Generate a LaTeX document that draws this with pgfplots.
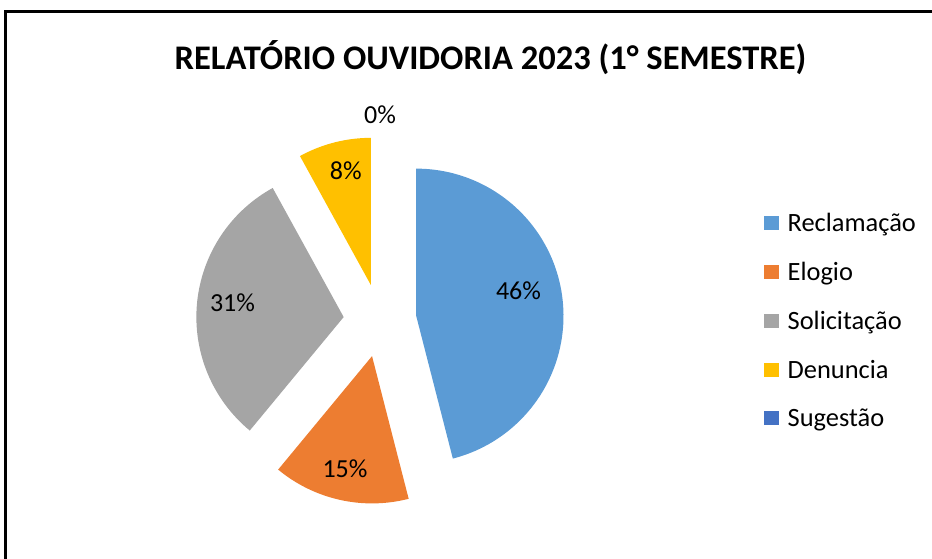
\documentclass[border=0pt]{standalone}
\usepackage{pgfplots}
\pgfplotsset{compat=1.18}
\usepackage{fontspec}
\setmainfont{Carlito}
\definecolor{cRec}{HTML}{5B9BD5}
\definecolor{cElo}{HTML}{ED7D31}
\definecolor{cSol}{HTML}{A5A5A5}
\definecolor{cDen}{HTML}{FFC000}
\definecolor{cSug}{HTML}{4472C4}
\begin{document}
\begin{tikzpicture}
\useasboundingbox (0,0) rectangle (932pt,559pt);
% shares in percent: Reclamacao 46, Elogio 15, Solicitacao 31, Denuncia 8, Sugestao 0
\pgfmathsetmacro\rad{147.3}
\pgfmathsetmacro\expl{36.5}
\pgfmathsetmacro\cx{380}
\pgfmathsetmacro\cy{238.5}
\pgfmathsetmacro\aA{90}
\pgfmathsetmacro\bA{\aA-3.6*46}
\pgfmathsetmacro\bB{\bA-3.6*15}
\pgfmathsetmacro\bC{\bB-3.6*31}
\pgfmathsetmacro\bD{\bC-3.6*8}
\pgfmathsetmacro\mA{(\aA+\bA)/2}
\pgfmathsetmacro\mB{(\bA+\bB)/2}
\pgfmathsetmacro\mC{(\bB+\bC)/2}
\pgfmathsetmacro\mD{(\bC+\bD)/2}
\pgfmathsetmacro\xA{\cx+\expl*cos(\mA)}\pgfmathsetmacro\yA{\cy+\expl*sin(\mA)}
\pgfmathsetmacro\xB{\cx+\expl*cos(\mB)}\pgfmathsetmacro\yB{\cy+\expl*sin(\mB)}
\pgfmathsetmacro\xC{\cx+\expl*cos(\mC)}\pgfmathsetmacro\yC{\cy+\expl*sin(\mC)}
\pgfmathsetmacro\xD{\cx+\expl*cos(\mD)}\pgfmathsetmacro\yD{\cy+\expl*sin(\mD)}
\begin{axis}[
  at={(0,0)}, anchor=south west,
  scale only axis, width=932pt, height=559pt,
  xmin=0, xmax=932, ymin=0, ymax=559,
  hide axis, clip=false,
  legend style={at={(axis cs:764,349)}, anchor=north west, draw=none, fill=none,
    inner sep=0pt, font=\fontsize{26.4}{30}\selectfont, row sep=23.1pt,
    nodes={inner sep=3pt}},
  legend cell align=left,
  legend image code/.code={\fill[#1] (0pt,-7pt) rectangle (15pt,7pt); \path (20.5pt,0pt);},
]
\addplot[fill=cRec, draw=none, domain=\bA:\aA, samples=90, variable=\t, forget plot]
  ({\xA+\rad*cos(\t)},{\yA+\rad*sin(\t)}) -- (axis cs:\xA,\yA) -- cycle;
\addplot[fill=cElo, draw=none, domain=\bB:\bA, samples=40, variable=\t, forget plot]
  ({\xB+\rad*cos(\t)},{\yB+\rad*sin(\t)}) -- (axis cs:\xB,\yB) -- cycle;
\addplot[fill=cSol, draw=none, domain=\bC:\bB, samples=70, variable=\t, forget plot]
  ({\xC+\rad*cos(\t)},{\yC+\rad*sin(\t)}) -- (axis cs:\xC,\yC) -- cycle;
\addplot[fill=cDen, draw=none, domain=\bD:\bC, samples=25, variable=\t, forget plot]
  ({\xD+\rad*cos(\t)},{\yD+\rad*sin(\t)}) -- (axis cs:\xD,\yD) -- cycle;
\addlegendimage{fill=cRec, draw=none}
\addlegendentry{Reclamação}
\addlegendimage{fill=cElo, draw=none}
\addlegendentry{Elogio}
\addlegendimage{fill=cSol, draw=none}
\addlegendentry{Solicitação}
\addlegendimage{fill=cDen, draw=none}
\addlegendentry{Denuncia}
\addlegendimage{fill=cSug, draw=none}
\addlegendentry{Sugestão}
\begin{scope}[font=\fontsize{26}{30}\selectfont]
\node[anchor=base] at (axis cs:518.5,259) {46\%};
\node[anchor=base] at (axis cs:345,81) {15\%};
\node[anchor=base] at (axis cs:232.5,247.3) {31\%};
\node[anchor=base] at (axis cs:345.8,379) {8\%};
\node[anchor=base] at (axis cs:380,435) {0\%};
\end{scope}
\node[anchor=base, font=\fontsize{34.5}{40}\selectfont\bfseries] at (axis cs:490.5,489) {RELATÓRIO OUVIDORIA 2023 (1° SEMESTRE)};
\draw[line width=2.8pt, line cap=rect] (axis cs:5.4,-5) -- (axis cs:5.4,547.7) -- (axis cs:940,547.7);
\end{axis}
\end{tikzpicture}
\end{document}
